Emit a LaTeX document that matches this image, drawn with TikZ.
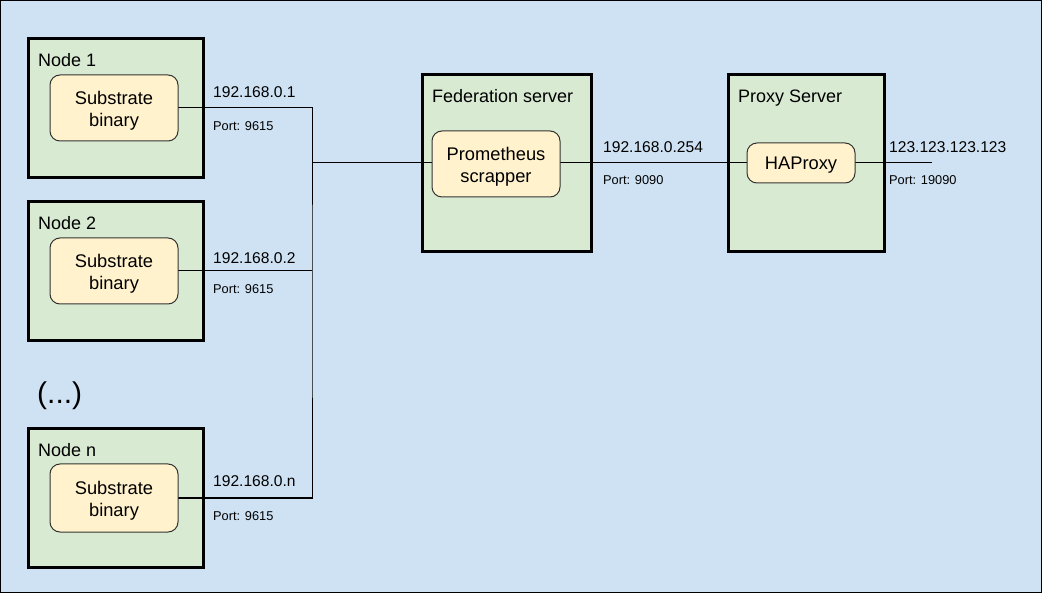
\documentclass[tikz,border=0pt]{standalone}
\usepackage{fontspec}
\setmainfont{Liberation Sans}
\definecolor{bgblue}{HTML}{CFE2F3}
\definecolor{boxgreen}{HTML}{D9EAD3}
\definecolor{boxyellow}{HTML}{FFF2CC}
\definecolor{innerline}{HTML}{333333}
\newcommand\myupstrut{\rule{0pt}{19pt}}
\tikzset{
  outerbox/.style={draw=black, line width=3pt, fill=boxgreen, inner sep=0pt},
  innerbox/.style={draw=innerline, line width=1pt, fill=boxyellow, rounded corners=10pt,
    inner sep=0pt, align=center, font=\fontsize{18.3}{22}\selectfont},
  titletext/.style={anchor=base west, inner sep=0pt, font=\fontsize{18}{22}\selectfont},
  iptext/.style={anchor=base west, inner sep=0pt, font=\fontsize{15.6}{18}\selectfont},
  porttext/.style={anchor=base west, inner sep=0pt, font=\fontsize{12.8}{15}\selectfont},
  wire/.style={draw=black, line width=1pt}
}
\begin{document}
\begin{tikzpicture}[x=1pt,y=-1pt]
\useasboundingbox (0,0) rectangle (1042,593);
\fill[bgblue, draw=black, line width=1pt] (0.5,0.5) rectangle (1041.5,592.5);

% outer boxes
\node[outerbox, minimum width=175pt, minimum height=139pt] (n1) at (115.5,108.5) {};
\node[outerbox, minimum width=175pt, minimum height=139pt] (n2) at (115.5,271.5) {};
\node[outerbox, minimum width=175pt, minimum height=138pt] (nn) at (115.5,498) {};
\node[outerbox, minimum width=169pt, minimum height=177pt] (fed) at (506.5,163.5) {};
\node[outerbox, minimum width=156pt, minimum height=177pt] (prx) at (806,163.5) {};

% titles
\node[titletext] (t1) at (38,66.5) {Node 1};
\node[titletext] (t2) at (38,229.5) {Node 2};
\node[titletext] (tn) at (38,456.5) {Node n};
\node[titletext] (tf) at (432,102.5) {Federation server};
\node[titletext] (tp) at (738,102.5) {Proxy Server};
\node[anchor=base west, inner sep=0pt, font=\fontsize{30}{34}\selectfont] (dots) at (37,404) {(...)};

% wires
\coordinate (bus) at (312,300);
\coordinate (out) at (932,163);
\coordinate (n1e) at (178,108);
\coordinate (n2e) at (178,271);
\coordinate (nne) at (178,498);
\draw[wire] (n1e) -| (bus) |- (nne);
\draw[wire] (n2e) -- (n2e -| bus);
\draw[wire] (bus |- out) -- (out);

% inner boxes
\node[innerbox, minimum width=128pt, minimum height=66pt] (n1in) at (114,108) {\myupstrut Substrate\\binary};
\node[innerbox, minimum width=128pt, minimum height=66pt] (n2in) at (114,271) {\myupstrut Substrate\\binary};
\node[innerbox, minimum width=128pt, minimum height=68pt] (nnin) at (114,498) {\myupstrut Substrate\\binary};
\node[innerbox, minimum width=128pt, minimum height=66pt] (prom) at (496,164) {\myupstrut Prometheus\\scrapper};
\node[innerbox, minimum width=108pt, minimum height=40pt] (hap) at (801,163) {\rule{0pt}{16pt}HAProxy};

% labels
\node[iptext] (ip1) at (213,97.6) {192.168.0.1};
\node[porttext] (p1) at (213,130.7) {Port: 9615};
\node[iptext] (ip2) at (213,263.6) {192.168.0.2};
\node[porttext] (p2) at (213,293.7) {Port: 9615};
\node[iptext] (ipn) at (213,486.6) {192.168.0.n};
\node[porttext] (pn) at (213,520.7) {Port: 9615};
\node[iptext] (ipf) at (603,152.6) {192.168.0.254};
\node[porttext] (pf) at (603,184.7) {Port: 9090};
\node[iptext] (ipp) at (889,152.6) {123.123.123.123};
\node[porttext] (pp) at (889,184.7) {Port: 19090};
\end{tikzpicture}
\end{document}
